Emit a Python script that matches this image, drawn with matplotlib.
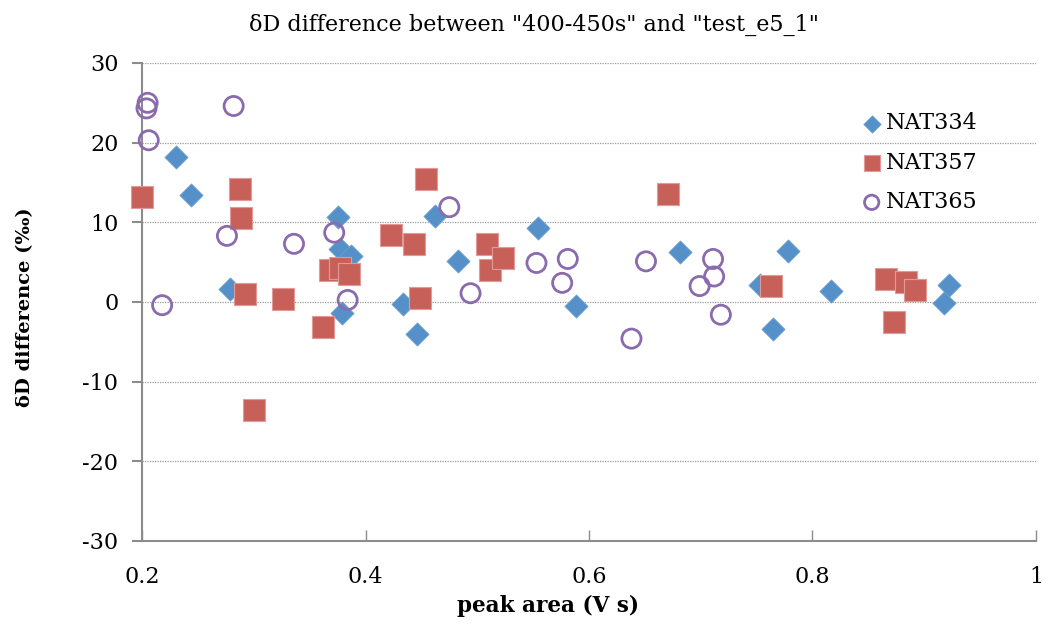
import matplotlib
matplotlib.use("Agg")
import matplotlib.pyplot as plt

# peak area (V s) and dD difference (permil) per standard
nat334_x = [0.230, 0.244, 0.279, 0.375, 0.377, 0.387, 0.379, 0.434, 0.446, 0.462,
            0.483, 0.554, 0.588, 0.681, 0.753, 0.765, 0.778, 0.817, 0.918, 0.922]
nat334_y = [18.2, 13.4, 1.6, 10.7, 6.6, 5.8, -1.4, -0.3, -4.0, 10.8,
            5.1, 9.3, -0.5, 6.3, 2.1, -3.4, 6.4, 1.4, -0.1, 2.1]

nat357_x = [0.200, 0.288, 0.289, 0.292, 0.300, 0.326, 0.362, 0.368, 0.377, 0.385,
            0.423, 0.443, 0.449, 0.454, 0.509, 0.511, 0.523, 0.671, 0.763, 0.866,
            0.873, 0.884, 0.892]
nat357_y = [13.2, 14.2, 10.5, 1.0, -13.6, 0.4, -3.1, 4.0, 4.3, 3.5,
            8.4, 7.3, 0.5, 15.4, 7.3, 4.0, 5.5, 13.6, 2.0, 2.9,
            -2.5, 2.5, 1.5]

nat365_x = [0.204, 0.205, 0.206, 0.218, 0.276, 0.282, 0.336, 0.372, 0.384, 0.475,
            0.494, 0.553, 0.576, 0.581, 0.638, 0.651, 0.699, 0.711, 0.712, 0.718]
nat365_y = [24.3, 25.0, 20.3, -0.4, 8.3, 24.6, 7.3, 8.7, 0.25, 11.9,
            1.1, 4.9, 2.4, 5.4, -4.6, 5.1, 2.0, 5.4, 3.2, -1.6]

x_ticks = [0.2, 0.4, 0.6, 0.8, 1.0]
x_labels = ["0.2", "0.4", "0.6", "0.8", "1"]
y_ticks = [-30, -20, -10, 0, 10, 20, 30]

plt.rcParams['font.family'] = ['DejaVu Serif']
plt.rcParams['axes.unicode_minus'] = False

fig = plt.figure(figsize=(10.42, 6.26), dpi=100)
ax = fig.add_axes([0.1363, 0.1358, 0.8579, 0.7636])

ax.scatter(nat334_x, nat334_y, marker='D', s=140, color='#5690C8',
           edgecolors='#6fa0d2', linewidths=0.5, label='NAT334', zorder=3,
           clip_on=False)
ax.scatter(nat357_x, nat357_y, marker='s', s=260, color='#C8605A',
           edgecolors='#e29a98', linewidths=0.8, label='NAT357', zorder=3,
           clip_on=False)
ax.scatter(nat365_x, nat365_y, marker='o', s=190, facecolors='none',
           edgecolors='#8A6BAE', linewidths=2, label='NAT365', zorder=3,
           clip_on=False)

ax.set_xlim(0.2, 1.0)
ax.set_ylim(-30, 30)
ax.set_xticks(x_ticks)
ax.set_xticklabels(x_labels)
ax.set_yticks(y_ticks)

ax.grid(axis='y', linestyle=(0, (1, 1)), color='#9a9a9a', linewidth=0.9)
ax.set_axisbelow(True)
for side in ['top', 'right']:
    ax.spines[side].set_visible(False)
for side in ['left', 'bottom']:
    ax.spines[side].set_color('#8c8c8c')
    ax.spines[side].set_linewidth(1.5)

ax.tick_params(axis='y', direction='out', length=7, width=1.5, color='#8c8c8c',
               labelsize=16, pad=10)
ax.tick_params(axis='x', direction='in', length=8, width=1, color='#8c8c8c',
               labelsize=16, pad=18)

# title and axis labels placed like the spreadsheet chart
fig.text(534 / 1042, 1 - 25 / 626, 'δD difference between "400-450s" and "test_e5_1"',
         fontsize=16, ha='center', va='center')
fig.text(548 / 1042, 1 - 606 / 626, 'peak area (V s)', fontsize=15.5,
         fontweight='bold', ha='center', va='center')
fig.text(25 / 1042, 1 - 307 / 626, 'δD difference (‰)', fontsize=14,
         fontweight='bold', ha='center', va='center', rotation=90)

ax.legend(loc='upper right', bbox_to_anchor=(0.945, 0.915), frameon=False,
          fontsize=16, handlelength=1.0, handletextpad=0.15, labelspacing=0.78,
          markerscale=0.75, borderaxespad=0)

fig.savefig('out.png', dpi=100)
